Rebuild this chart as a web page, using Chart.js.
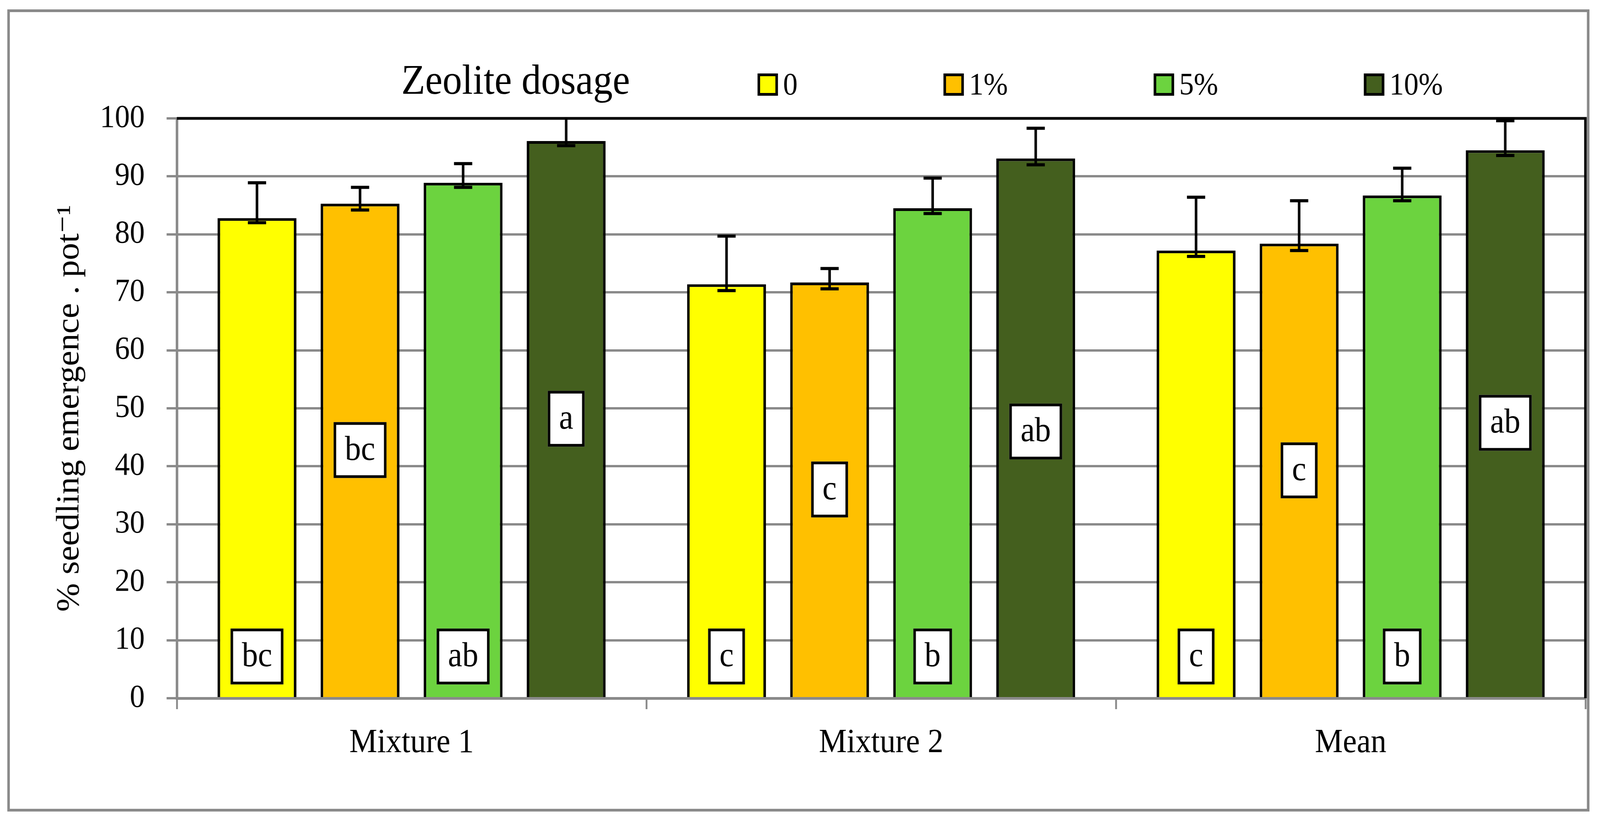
<!DOCTYPE html>
<html>
<head>
<meta charset="utf-8">
<script src="https://cdn.jsdelivr.net/npm/chart.js@4.4.1/dist/chart.umd.min.js"></script>
<style>
  html, body { margin: 0; padding: 0; background: #fff; overflow: hidden; }
  #wrap { width: 4389px; height: 2091px; position: absolute; left: 0; top: 0; transform-origin: 0 0; }
</style>
</head>
<body>
<div id="wrap"><canvas id="emergence-chart"></canvas></div>
<script>
const categories = ['Mixture 1', 'Mixture 2', 'Mean'];
const doseLabels = ['0', '1%', '5%', '10%'];
const doseColors = ['#FFFF00', '#FFC000', '#6CD33F', '#445F1E'];

// bar heights (% seedling emergence)
const dose0 = [82.8, 71.4, 77.2];
const dose1 = [85.3, 71.7, 78.4];
const dose5 = [88.9, 84.5, 86.7];
const dose10 = [96.1, 93.1, 94.5];

// error bar ends
const high0 = [88.9, 79.7, 86.4];
const high1 = [88.1, 74.1, 85.8];
const high5 = [92.2, 89.7, 91.4];
const high10 = [100.6, 98.3, 99.6];
const low0 = [82.0, 70.3, 76.2];
const low1 = [84.2, 70.6, 77.2];
const low5 = [88.1, 83.6, 85.8];
const low10 = [95.3, 92.0, 93.6];

// significance letters and where their boxes sit on the y axis
const letters0 = ['bc', 'c', 'c'];
const letters1 = ['bc', 'c', 'c'];
const letters5 = ['ab', 'b', 'b'];
const letters10 = ['a', 'ab', 'ab'];
const letterAt0 = [7.2, 7.2, 7.2];
const letterAt1 = [42.8, 36.0, 39.3];
const letterAt5 = [7.2, 7.2, 7.2];
const letterAt10 = [48.2, 46.0, 47.5];

const yTicks = [0, 10, 20, 30, 40, 50, 60, 70, 80, 90, 100];
const yTitle = '% seedling emergence . pot\u207B\u00B9';
const legendTitle = 'Zeolite dosage';

const serif = "'Liberation Serif', 'DejaVu Serif', serif";
const gridGrey = '#8a8a8a';

// the page is laid out at 4389 x 2091 and stretched to whatever the window really is
const wrap = document.getElementById('wrap');
wrap.style.transform = 'scale(' + (window.innerWidth / 4389) + ',' + (window.innerHeight / 2091) + ')';

const values = [dose0, dose1, dose5, dose10];
const highs = [high0, high1, high5, high10];
const lows = [low0, low1, low5, low10];
const letters = [letters0, letters1, letters5, letters10];
const letterAt = [letterAt0, letterAt1, letterAt5, letterAt10];

const datasets = doseLabels.map((label, i) => ({
    label: label,
    data: values[i],
    errHigh: highs[i],
    errLow: lows[i],
    letters: letters[i],
    letterAt: letterAt[i],
    backgroundColor: doseColors[i],
    borderColor: '#000',
    borderWidth: 7,
    categoryPercentage: 0.878,
    barPercentage: 0.765
}));

const framePlugin = {
    id: 'frame',
    beforeDraw(chart) {
        const ctx = chart.ctx;
        ctx.save();
        ctx.fillStyle = '#fff';
        ctx.fillRect(0, 0, chart.width, chart.height);
        ctx.strokeStyle = gridGrey;
        ctx.lineWidth = 7;
        ctx.strokeRect(23.5, 27.5, 4333, 2046);
        ctx.restore();
    },
    afterDraw(chart) {
        const ctx = chart.ctx;
        const area = chart.chartArea;
        ctx.save();
        ctx.strokeStyle = '#000';
        ctx.lineWidth = 7;
        ctx.beginPath();
        ctx.moveTo(area.left, area.top);
        ctx.lineTo(area.right, area.top);
        ctx.lineTo(area.right, area.bottom);
        ctx.stroke();
        ctx.restore();
    }
};

const errorBarPlugin = {
    id: 'errorBars',
    afterDatasetsDraw(chart) {
        const ctx = chart.ctx;
        const area = chart.chartArea;
        const y = chart.scales.y;
        ctx.save();
        ctx.beginPath();
        ctx.rect(area.left, area.top, area.right - area.left, area.bottom - area.top);
        ctx.clip();
        ctx.strokeStyle = '#000';
        chart.data.datasets.forEach((ds, di) => {
            chart.getDatasetMeta(di).data.forEach((bar, i) => {
                const yHi = y.getPixelForValue(ds.errHigh[i]);
                const yLo = y.getPixelForValue(ds.errLow[i]);
                ctx.lineWidth = 7;
                ctx.beginPath();
                ctx.moveTo(bar.x, yHi);
                ctx.lineTo(bar.x, yLo);
                ctx.stroke();
                ctx.lineWidth = 8;
                ctx.beginPath();
                ctx.moveTo(bar.x - 25, yHi);
                ctx.lineTo(bar.x + 25, yHi);
                ctx.moveTo(bar.x - 25, yLo);
                ctx.lineTo(bar.x + 25, yLo);
                ctx.stroke();
            });
        });
        ctx.restore();
    }
};

const letterPlugin = {
    id: 'letters',
    afterDatasetsDraw(chart) {
        const ctx = chart.ctx;
        const y = chart.scales.y;
        ctx.save();
        ctx.font = '88px ' + serif;
        ctx.textAlign = 'center';
        ctx.textBaseline = 'middle';
        chart.data.datasets.forEach((ds, di) => {
            chart.getDatasetMeta(di).data.forEach((bar, i) => {
                const text = ds.letters[i];
                const cy = y.getPixelForValue(ds.letterAt[i]);
                const w = ctx.measureText(text).width + 62;
                const h = 143;
                ctx.fillStyle = '#fff';
                ctx.fillRect(bar.x - w / 2, cy - h / 2, w, h);
                ctx.strokeStyle = '#000';
                ctx.lineWidth = 7;
                ctx.strokeRect(bar.x - w / 2 + 3.5, cy - h / 2 + 3.5, w - 7, h - 7);
                ctx.fillStyle = '#000';
                ctx.fillText(text, bar.x, cy + 2);
            });
        });
        ctx.restore();
    }
};

const legendPlugin = {
    id: 'dosageLegend',
    afterDraw(chart) {
        const ctx = chart.ctx;
        ctx.save();
        ctx.textAlign = 'left';
        ctx.textBaseline = 'alphabetic';
        ctx.fillStyle = '#000';
        ctx.font = '107px ' + serif;
        ctx.fillText(legendTitle, 1101, 240);
        ctx.font = '80px ' + serif;
        let x = 2078;
        chart.data.datasets.forEach(ds => {
            ctx.fillStyle = ds.backgroundColor;
            ctx.fillRect(x, 188, 56, 57);
            ctx.strokeStyle = '#000';
            ctx.lineWidth = 7;
            ctx.strokeRect(x + 3.5, 191.5, 49, 50);
            ctx.fillStyle = '#000';
            ctx.fillText(ds.label, x + 70, 242);
            x += 70 + ctx.measureText(ds.label).width + 400;
        });
        ctx.restore();
    }
};

const config = {
    type: 'bar',
    data: {
        labels: categories,
        datasets: datasets
    },
    options: {
        responsive: true,
        maintainAspectRatio: false,
        animation: false,
        layout: {
            padding: { left: 60, right: 40, top: 303, bottom: 20 }
        },
        plugins: {
            legend: { display: false },
            tooltip: { enabled: false }
        },
        scales: {
            x: {
                afterFit(scale) { scale.height = 284; },
                grid: {
                    offset: true,
                    drawOnChartArea: false,
                    drawTicks: true,
                    tickLength: 28,
                    color: gridGrey,
                    lineWidth: 5
                },
                border: { color: gridGrey, width: 7, z: 1 },
                ticks: {
                    color: '#000',
                    font: { family: serif, size: 86 },
                    padding: 36,
                    maxRotation: 0,
                    autoSkip: false
                }
            },
            y: {
                min: 0,
                max: 100,
                afterFit(scale) { scale.width = 425; },
                afterBuildTicks(scale) {
                    scale.ticks = yTicks.map(v => ({ value: v }));
                },
                grid: {
                    color: gridGrey,
                    lineWidth: 6,
                    tickLength: 28
                },
                border: { color: gridGrey, width: 7 },
                ticks: {
                    color: '#000',
                    font: { family: serif, size: 82 },
                    padding: 60
                },
                title: {
                    display: true,
                    text: yTitle,
                    color: '#000',
                    font: { family: serif, size: 88 },
                    padding: { top: 79, bottom: 0 }
                }
            }
        }
    },
    plugins: [framePlugin, errorBarPlugin, letterPlugin, legendPlugin]
};

const emergenceChart = new Chart(document.getElementById('emergence-chart'), config);
</script>
</body>
</html>
